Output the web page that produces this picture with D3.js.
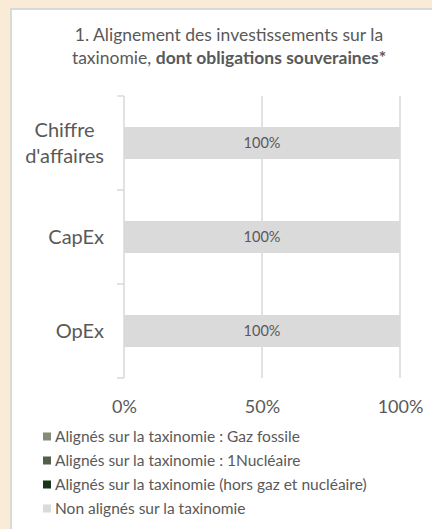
<!DOCTYPE html>
<html>
<head>
<meta charset="utf-8">
<title>Alignement taxinomie</title>
<script src="https://cdn.jsdelivr.net/npm/d3@7"></script>
<style>
  body { margin: 0; background: #faebd7; }
  text { font-family: Lato, "Open Sans", sans-serif; fill: #595959; }
</style>
</head>
<body>
<div id="chart"></div>
<script>
var categories = ["Chiffre d'affaires", "CapEx", "OpEx"];
var seriesNames = [
  "Alignés sur la taxinomie : Gaz fossile",
  "Alignés sur la taxinomie : 1Nucléaire",
  "Alignés sur la taxinomie (hors gaz et nucléaire)",
  "Non alignés sur la taxinomie"
];
var gazFossile = [0, 0, 0];
var nucleaire = [0, 0, 0];
var horsGazNucleaire = [0, 0, 0];
var nonAlignes = [100, 100, 100];
var xTicks = [0, 50, 100];
var colors = ["#828c77", "#545f4b", "#173518", "#dadadb"];

var W = 432, H = 529;
var svg = d3.select("#chart").append("svg")
  .attr("width", W).attr("height", H);

// background panel
svg.append("rect").attr("x", 0).attr("y", 0).attr("width", W).attr("height", H).attr("fill", "#faebd7");
svg.append("rect").attr("x", 11).attr("y", 9).attr("width", W).attr("height", H)
  .attr("fill", "#fff").attr("stroke", "#d9d9d9").attr("stroke-width", 2);

// title
var title = svg.append("text").attr("text-anchor", "middle").style("font-size", "17.5px");
title.append("tspan").attr("x", 229).attr("y", 41).text("1. Alignement des investissements sur la");
var t2 = title.append("tspan").attr("x", 229).attr("y", 64);
t2.append("tspan").text("taxinomie, ");
t2.append("tspan").style("font-weight", "bold").text("dont obligations souveraines*");

var table = categories.map(function(c, i) {
  return { cat: c, s0: gazFossile[i], s1: nucleaire[i], s2: horsGazNucleaire[i], s3: nonAlignes[i] };
});
var stack = d3.stack().keys(["s0", "s1", "s2", "s3"])(table);

var x = d3.scaleLinear().domain([0, 100]).range([124, 400]);
var y = d3.scaleBand().domain(categories).range([96, 378]).padding(0);
var barH = y.step() * 0.34;

// gridlines
svg.selectAll(".grid").data(xTicks.slice(1)).enter().append("line")
  .attr("x1", function(d) { return x(d); }).attr("x2", function(d) { return x(d); })
  .attr("y1", 96).attr("y2", 378)
  .attr("stroke", "#d9d9d9").attr("stroke-width", 1.5);

// bars
stack.forEach(function(layer, k) {
  svg.selectAll(".bar" + k).data(layer).enter().append("rect")
    .attr("x", function(d) { return x(d[0]); })
    .attr("width", function(d) { return x(d[1]) - x(d[0]); })
    .attr("y", function(d) { return y(d.data.cat) + (y.step() - barH) / 2; })
    .attr("height", barH)
    .attr("fill", colors[k]);
  svg.selectAll(".lab" + k).data(layer.filter(function(d) { return d[1] - d[0] > 0; })).enter().append("text")
    .attr("x", function(d) { return x((d[0] + d[1]) / 2); })
    .attr("y", function(d) { return y(d.data.cat) + y.step() / 2; })
    .attr("dy", "0.35em").attr("text-anchor", "middle")
    .style("font-size", "14.5px")
    .text(function(d) { return Math.round(d[1] - d[0]) + "%"; });
});

// y axis line and ticks at category boundaries
svg.append("line").attr("x1", x(0)).attr("x2", x(0)).attr("y1", 96).attr("y2", 378)
  .attr("stroke", "#d9d9d9").attr("stroke-width", 1.5);
var bounds = categories.map(function(c) { return y(c); }).concat([y.range()[1]]);
svg.selectAll(".ytick").data(bounds).enter().append("line")
  .attr("x1", x(0) - 7).attr("x2", x(0)).attr("y1", function(d) { return d; }).attr("y2", function(d) { return d; })
  .attr("stroke", "#d9d9d9").attr("stroke-width", 1.5);

// category labels (wrapped lines centred on each other, block right-aligned)
categories.forEach(function(c) {
  var words = c.split(" ");
  var t = svg.append("text").attr("text-anchor", "middle").style("font-size", "20px");
  var cy = y(c) + y.step() / 2;
  words.forEach(function(w, i) {
    t.append("tspan").attr("y", cy + (i - (words.length - 1) / 2) * 26)
      .attr("dy", "0.35em").text(w);
  });
  var wMax = d3.max(t.selectAll("tspan").nodes(), function(n) { return n.getComputedTextLength(); });
  t.selectAll("tspan").attr("x", 104 - wMax / 2);
});

// x axis labels
var xAxis = svg.append("g").attr("transform", "translate(0,407)")
  .call(d3.axisBottom(x).tickValues(xTicks).tickSize(0).tickFormat(function(d) { return d + "%"; }));
xAxis.select(".domain").remove();
xAxis.selectAll("text").attr("dy", "0.35em").attr("y", 0)
  .style("font-size", "18px").style("font-family", "Lato, 'Open Sans', sans-serif").attr("fill", "#595959");

// legend
var leg = svg.selectAll(".leg").data(seriesNames).enter().append("g")
  .attr("transform", function(d, i) { return "translate(43," + (437 + i * 24) + ")"; });
leg.append("rect").attr("x", 0).attr("y", -4.5).attr("width", 8).attr("height", 8)
  .attr("fill", function(d, i) { return colors[i]; });
leg.append("text").attr("x", 12).attr("dy", "0.35em").style("font-size", "15.5px")
  .text(function(d) { return d; });
</script>
</body>
</html>
